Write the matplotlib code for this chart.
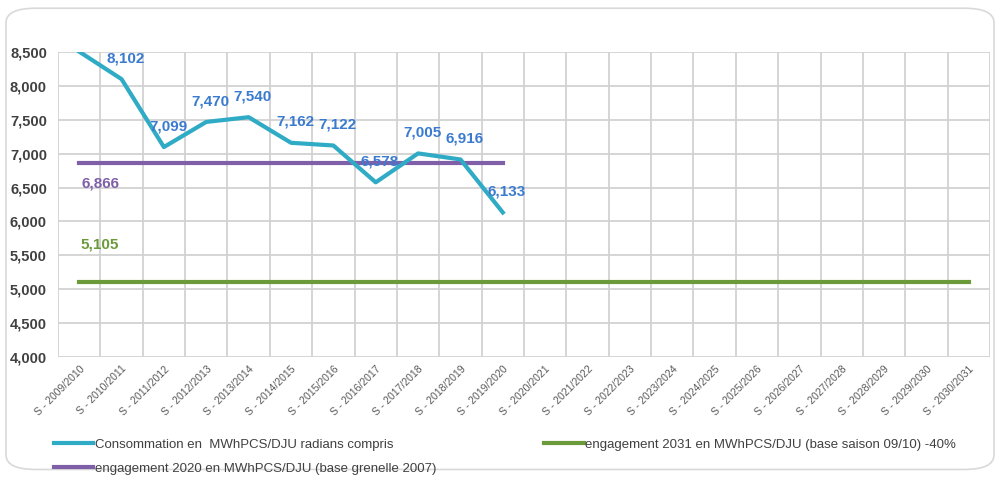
import numpy as np
import matplotlib.pyplot as plt
from matplotlib.patches import FancyBboxPatch

plt.rcParams['font.family'] = ['Liberation Sans', 'DejaVu Sans']

# data
saisons = ['S - 2009/2010', 'S - 2010/2011', 'S - 2011/2012', 'S - 2012/2013', 'S - 2013/2014',
           'S - 2014/2015', 'S - 2015/2016', 'S - 2016/2017', 'S - 2017/2018', 'S - 2018/2019',
           'S - 2019/2020', 'S - 2020/2021', 'S - 2021/2022', 'S - 2022/2023', 'S - 2023/2024',
           'S - 2024/2025', 'S - 2025/2026', 'S - 2026/2027', 'S - 2027/2028', 'S - 2028/2029',
           'S - 2029/2030', 'S - 2030/2031']
conso = [8508, 8102, 7099, 7470, 7540, 7162, 7122, 6578, 7005, 6916, 6133]
engagement_2020 = 6866
n_2020 = 11
engagement_2031 = 5105
n_2031 = 22

conso_label = 'Consommation en  MWhPCS/DJU radians compris'
eng2031_label = 'engagement 2031 en MWhPCS/DJU (base saison 09/10) -40%'
eng2020_label = 'engagement 2020 en MWhPCS/DJU (base grenelle 2007)'

c_conso = '#2fabc6'
c_2020 = '#7e5fa8'
c_2031 = '#6b9a3a'
c_lab = '#3a7bd0'

fig = plt.figure(figsize=(10, 4.83), dpi=100)
# rounded frame around chart
frame = FancyBboxPatch((0.006, 0.028), 0.988, 0.955, boxstyle='round,pad=0,rounding_size=0.03',
                       transform=fig.transFigure, facecolor='white', edgecolor='#d9d9d9', lw=1.2, zorder=0)
fig.patches.append(frame)

ax = fig.add_axes([0.058, 0.261, 0.932, 0.631])
ax.set_zorder(1)
ax.patch.set_alpha(0)
x = np.arange(len(saisons))

l1, = ax.plot(x[:len(conso)], conso, color=c_conso, lw=3, zorder=4, label=conso_label)
l3, = ax.plot(x[:n_2031], [engagement_2031] * n_2031, color=c_2031, lw=3, zorder=3, label=eng2031_label)
l2, = ax.plot(x[:n_2020], [engagement_2020] * n_2020, color=c_2020, lw=3, zorder=3, label=eng2020_label)

# data labels
for i, v in enumerate(conso):
    if i == 0:
        continue
    ax.annotate(f'{v:,}', (x[i], v), xytext=(3, 10), textcoords='offset points',
                ha='center', va='bottom', fontsize=11, fontweight='bold', color=c_lab, zorder=5)
ax.annotate(f'{engagement_2020:,}', (x[0], engagement_2020), xytext=(15, -10), textcoords='offset points',
            ha='center', va='top', fontsize=11, fontweight='bold', color=c_2020)
ax.annotate(f'{engagement_2031:,}', (x[0], engagement_2031), xytext=(15, 22), textcoords='offset points',
            ha='center', va='bottom', fontsize=11, fontweight='bold', color=c_2031)

ax.set_xlim(-0.5, len(saisons) - 0.5)
ax.set_ylim(4000, 8500)
ax.set_yticks(np.arange(4000, 8501, 500))
ax.set_yticklabels([f'{t:,}' for t in range(4000, 8501, 500)], fontsize=10.5, fontweight='bold', color='#404040')
ax.set_xticks(x)
ax.set_xticklabels(saisons, rotation=45, ha='right', rotation_mode='anchor', fontsize=7.5, color='#595959')
ax.set_xticks(np.arange(-0.5, len(saisons)), minor=True)
ax.tick_params(axis='both', which='both', length=0)
ax.tick_params(axis='x', pad=5)
ax.tick_params(axis='y', pad=8)
ax.grid(True, which='major', axis='y', color='#d2d2d2', lw=1.3)
ax.grid(True, which='minor', axis='x', color='#d2d2d2', lw=1.3)
for s in ax.spines.values():
    s.set_visible(False)
ax.set_axisbelow(True)

fig.legend([l1, l2, l3], [conso_label, eng2020_label, eng2031_label], loc='upper left',
           bbox_to_anchor=(0.042, 0.117), ncol=2, frameon=False,
           fontsize=9.5, handlelength=3.0, handletextpad=0.1, columnspacing=8.2, labelspacing=0.9,
           labelcolor='#404040')

plt.savefig('out.png')
